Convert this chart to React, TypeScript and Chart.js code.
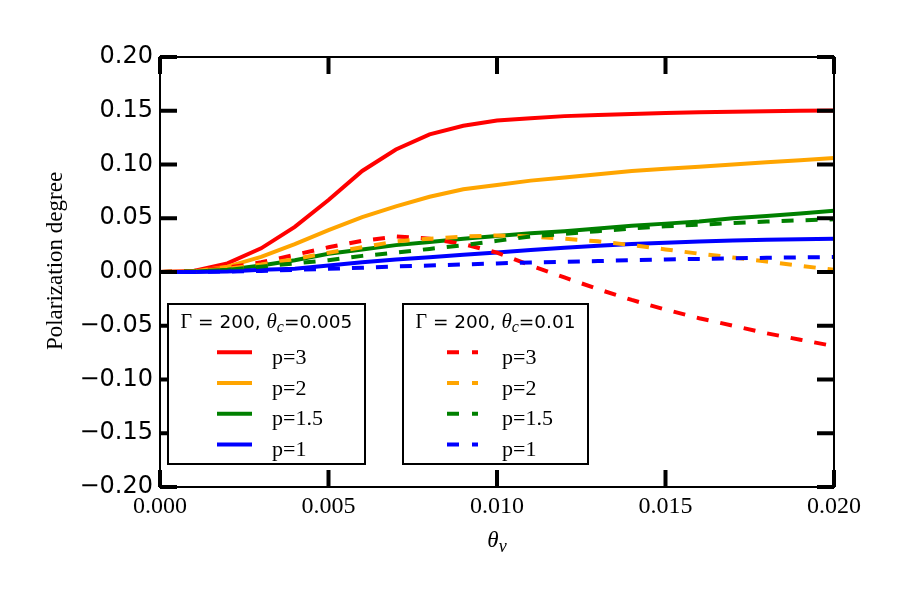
import React, { useEffect, useRef } from "react";
import { Chart, registerables } from "chart.js";

Chart.register(...registerables);

// ---------------- data ----------------
const thetaV = [
  0, 0.001, 0.002, 0.003, 0.004, 0.005, 0.006, 0.007, 0.008, 0.009, 0.01,
  0.011, 0.012, 0.013, 0.014, 0.015, 0.016, 0.017, 0.018, 0.019, 0.02,
];

// theta_c = 0.005 (solid)
const solidP3 = [
  0.0, 0.001, 0.008, 0.022, 0.042, 0.067, 0.094, 0.114, 0.128, 0.136, 0.141,
  0.143, 0.145, 0.146, 0.147, 0.148, 0.1485, 0.149, 0.1495, 0.15, 0.1503,
];
const solidP2 = [
  0.0, 0.0005, 0.005, 0.014, 0.026, 0.039, 0.051, 0.061, 0.07, 0.077, 0.081,
  0.085, 0.088, 0.091, 0.094, 0.096, 0.098, 0.1, 0.102, 0.104, 0.106,
];
const solidP15 = [
  0.0, 0.0003, 0.002, 0.006, 0.011, 0.017, 0.021, 0.025, 0.028, 0.031, 0.0335,
  0.036, 0.038, 0.0405, 0.043, 0.045, 0.047, 0.05, 0.052, 0.0545, 0.057,
];
const solidP1 = [
  0.0, 0.0, 0.0005, 0.002, 0.003, 0.006, 0.009, 0.0116, 0.0138, 0.016, 0.0182,
  0.0205, 0.0225, 0.0245, 0.026, 0.0272, 0.0283, 0.0293, 0.03, 0.0305, 0.031,
];

// theta_c = 0.01 (dashed)
const dashedP3 = [
  0.0, 0.001, 0.004, 0.009, 0.016, 0.023, 0.029, 0.033, 0.031, 0.026, 0.018,
  0.006, -0.005, -0.016, -0.026, -0.035, -0.043, -0.05, -0.057, -0.063, -0.069,
];
const dashedP2 = [
  0.0, 0.0008, 0.003, 0.007, 0.012, 0.018, 0.023, 0.0285, 0.031, 0.033, 0.034,
  0.033, 0.031, 0.0285, 0.025, 0.021, 0.017, 0.0135, 0.0097, 0.0058, 0.002,
];
const dashedP15 = [
  0.0, 0.0005, 0.002, 0.005, 0.008, 0.011, 0.015, 0.018, 0.0215, 0.025, 0.029,
  0.033, 0.0355, 0.038, 0.0405, 0.0425, 0.044, 0.0455, 0.047, 0.048, 0.049,
];
const dashedP1 = [
  0.0, 0.0, 0.0005, 0.001, 0.002, 0.003, 0.004, 0.0053, 0.006, 0.007, 0.008,
  0.0088, 0.0095, 0.0102, 0.011, 0.0116, 0.0122, 0.0127, 0.0132, 0.0136, 0.014,
];

const xTickValues = [0, 0.005, 0.01, 0.015, 0.02];
const xTickLabels = ["0.000", "0.005", "0.010", "0.015", "0.020"];
const yTickValues = [-0.2, -0.15, -0.1, -0.05, 0, 0.05, 0.1, 0.15, 0.2];
const yTickLabels = [
  "\u22120.20", "\u22120.15", "\u22120.10", "\u22120.05", "0.00",
  "0.05", "0.10", "0.15", "0.20",
];

const seriesLabels = ["p=3", "p=2", "p=1.5", "p=1"];
const seriesColors = ["#ff0000", "#ffa500", "#008000", "#0000ff"];
const solidSeries = [solidP3, solidP2, solidP15, solidP1];
const dashedSeries = [dashedP3, dashedP2, dashedP15, dashedP1];
const legendTitleValues = ["0.005", "0.01"];

const yAxisTitle = "Polarization degree";

// ---------------- helpers ----------------
const DASH = [12, 12];
const LW = 4;

function pts(ys: number[]) {
  return thetaV.map((x, i) => ({ x, y: ys[i] }));
}

function drawLegendTitle(ctx: CanvasRenderingContext2D, cx: number, baseline: number, val: string) {
  const parts = [
    { t: "\u0393", font: '20px "Liberation Serif"', dy: 0 },
    { t: " = 200, ", font: '18.5px "DejaVu Sans"', dy: 0 },
    { t: "\u03b8", font: 'italic 21px "Liberation Serif"', dy: 0 },
    { t: "c", font: 'italic 16px "Liberation Serif"', dy: 4 },
    { t: "=" + val, font: '18.5px "DejaVu Sans"', dy: 0 },
  ];
  let total = 0;
  const widths = parts.map((p) => {
    ctx.font = p.font;
    const w = ctx.measureText(p.t).width;
    total += w;
    return w;
  });
  let x = cx - total / 2;
  ctx.fillStyle = "#000";
  ctx.textAlign = "left";
  ctx.textBaseline = "alphabetic";
  parts.forEach((p, i) => {
    ctx.font = p.font;
    ctx.fillText(p.t, x, baseline + p.dy);
    x += widths[i];
  });
}

const framePlugin = {
  id: "frameTicks",
  afterDatasetsDraw(chart: any) {
    const { ctx, chartArea: a, scales } = chart;
    ctx.save();
    ctx.strokeStyle = "#000";
    ctx.lineWidth = 2;
    ctx.setLineDash([]);
    ctx.strokeRect(a.left, a.top, a.right - a.left, a.bottom - a.top);
    ctx.lineWidth = 4;
    ctx.lineCap = "butt";
    const tl = 17;
    const seg = (x1: number, y1: number, x2: number, y2: number) => {
      ctx.beginPath();
      ctx.moveTo(x1, y1);
      ctx.lineTo(x2, y2);
      ctx.stroke();
    };
    xTickValues.forEach((v) => {
      const x = scales.x.getPixelForValue(v);
      seg(x, a.bottom, x, a.bottom - tl);
      seg(x, a.top, x, a.top + tl);
    });
    yTickValues.forEach((v) => {
      const y = scales.y.getPixelForValue(v);
      seg(a.left, y, a.left + tl, y);
      seg(a.right, y, a.right - tl, y);
    });
    ctx.restore();
  },
};

const annotPlugin = {
  id: "annot",
  afterDraw(chart: any) {
    const { ctx, chartArea: a } = chart;
    ctx.save();
    // y axis title
    ctx.save();
    ctx.translate(62, (a.top + a.bottom) / 2 - 11);
    ctx.rotate(-Math.PI / 2);
    ctx.font = '23px "Liberation Serif"';
    ctx.fillStyle = "#000";
    ctx.textAlign = "center";
    ctx.textBaseline = "alphabetic";
    ctx.fillText(yAxisTitle, 0, 0);
    ctx.restore();

    // x axis title: theta_v
    const cx = (a.left + a.right) / 2;
    ctx.fillStyle = "#000";
    ctx.textBaseline = "alphabetic";
    ctx.textAlign = "left";
    ctx.font = 'italic 23px "Liberation Serif"';
    const wT = ctx.measureText("\u03b8").width;
    ctx.font = 'italic 18px "Liberation Serif"';
    const wV = ctx.measureText("v").width;
    const x0 = cx - (wT + wV) / 2;
    ctx.font = 'italic 23px "Liberation Serif"';
    ctx.fillText("\u03b8", x0, 547);
    ctx.font = 'italic 18px "Liberation Serif"';
    ctx.fillText("v", x0 + wT, 552);

    // legends
    const boxes = [
      { left: a.left + 8, right: a.left + 205, dashed: false, handleX: a.left + 57, handleLen: 35, textX: a.left + 112 },
      { left: a.left + 243, right: a.left + 428, dashed: true, handleX: a.left + 287, handleLen: 31, textX: a.left + 342 },
    ];
    const top = a.top + 247;
    const bottom = a.top + 407;
    boxes.forEach((b, bi) => {
      ctx.fillStyle = "#fff";
      ctx.fillRect(b.left, top, b.right - b.left, bottom - top);
      ctx.strokeStyle = "#000";
      ctx.lineWidth = 2;
      ctx.setLineDash([]);
      ctx.strokeRect(b.left, top, b.right - b.left, bottom - top);
      drawLegendTitle(ctx, (b.left + b.right) / 2, top + 23.5, legendTitleValues[bi]);
      seriesLabels.forEach((lab, i) => {
        const yc = top + 48.3 + i * 30.7;
        ctx.strokeStyle = seriesColors[i];
        ctx.lineWidth = LW;
        ctx.lineCap = "butt";
        ctx.setLineDash(b.dashed ? [12, 13] : []);
        ctx.beginPath();
        ctx.moveTo(b.handleX, yc);
        ctx.lineTo(b.handleX + b.handleLen, yc);
        ctx.stroke();
        ctx.setLineDash([]);
        ctx.fillStyle = "#000";
        ctx.font = '22px "Liberation Serif"';
        ctx.textAlign = "left";
        ctx.textBaseline = "alphabetic";
        ctx.fillText(lab, b.textX, yc + 11.7);
      });
    });
    ctx.restore();
  },
};

export default function App() {
  const ref = useRef<HTMLCanvasElement | null>(null);

  useEffect(() => {
    document.body.style.margin = "0";
    const canvas = ref.current;
    if (!canvas) return;

    const datasets: any[] = [];
    solidSeries.forEach((s, i) => {
      datasets.push({
        label: seriesLabels[i] + " (\u03b8c=0.005)",
        data: pts(s),
        borderColor: seriesColors[i],
        backgroundColor: seriesColors[i],
        borderWidth: LW,
        pointRadius: 0,
        tension: 0,
        fill: false,
        order: 8 - i,
      });
    });
    dashedSeries.forEach((s, i) => {
      datasets.push({
        label: seriesLabels[i] + " (\u03b8c=0.01)",
        data: pts(s),
        borderColor: seriesColors[i],
        backgroundColor: seriesColors[i],
        borderWidth: LW,
        borderDash: DASH,
        borderCapStyle: "butt",
        pointRadius: 0,
        tension: 0,
        fill: false,
        order: 4 - i,
      });
    });

    const chart = new Chart(canvas, {
      type: "line",
      data: { datasets },
      options: {
        animation: false,
        responsive: false,
        devicePixelRatio: 1,
        layout: { padding: { left: 0, top: 57, right: 73, bottom: 0 } },
        plugins: { legend: { display: false }, tooltip: { enabled: false } },
        scales: {
          x: {
            type: "linear",
            min: 0,
            max: 0.02,
            grid: { display: false, drawTicks: false, tickLength: 0 },
            border: { display: false },
            afterBuildTicks: (scale: any) => {
              scale.ticks = xTickValues.map((v) => ({ value: v }));
            },
            afterFit: (scale: any) => {
              scale.height = 118;
            },
            ticks: {
              autoSkip: false,
              maxRotation: 0,
              padding: 5,
              color: "#000",
              font: { family: "Liberation Serif", size: 24 },
              callback: (_v: any, i: number) => xTickLabels[i],
            },
          },
          y: {
            type: "linear",
            min: -0.2,
            max: 0.2,
            grid: { display: false, drawTicks: false, tickLength: 0 },
            border: { display: false },
            afterBuildTicks: (scale: any) => {
              scale.ticks = yTickValues.map((v) => ({ value: v }));
            },
            afterFit: (scale: any) => {
              scale.width = 160;
            },
            ticks: {
              autoSkip: false,
              padding: 7,
              color: "#000",
              font: { family: "DejaVu Sans", size: 24 },
              callback: (_v: any, i: number) => yTickLabels[i],
            },
          },
        },
      } as any,
      plugins: [framePlugin, annotPlugin],
    });
    return () => chart.destroy();
  }, []);

  return (
    <div style={{ width: 907, height: 605, background: "#fff" }}>
      <canvas ref={ref} width={907} height={605} style={{ width: 907, height: 605, display: "block" }} />
    </div>
  );
}
